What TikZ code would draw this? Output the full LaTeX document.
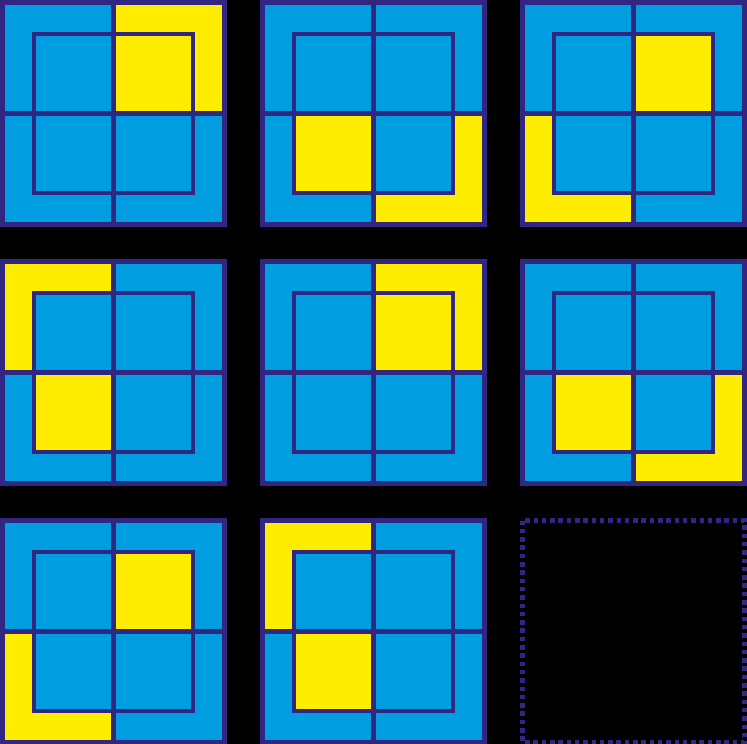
\documentclass[tikz,border=0pt]{standalone}
\definecolor{tileblue}{RGB}{0,158,224}
\definecolor{tileyellow}{RGB}{255,237,0}
\definecolor{tileline}{RGB}{49,39,131}
\begin{document}
\begin{tikzpicture}[x=1pt, y=-1pt,
    rim/.style={line width=4.5pt, tileline},
    lit/.style={fill=tileyellow}]
    % 背景
    \fill[black] (0,0) rectangle (747,744);
    \useasboundingbox (0,0) rectangle (747,744);
    
    % 八块方格: 中心 / 内格象限 / 外框象限
    \foreach \cx/\cy/\ix/\iy/\ox/\oy in {
        113.5/113.5/1/-1/1/-1, 373.5/113.5/-1/1/1/1, 633.5/113.5/1/-1/-1/1,
        113.5/372.5/-1/1/-1/-1, 373.5/372.5/1/-1/1/-1, 633.5/372.5/-1/1/1/1,
        113.5/631.5/1/-1/-1/1, 373.5/631.5/-1/1/-1/-1}{
        \begin{scope}[shift={(\cx,\cy)}]
            \fill[tileblue] (-111,-111) rectangle (111,111);
            \fill[lit] (0,0) rectangle (\ox*111,\oy*111);
            \fill[tileblue] (-79.5,-79.5) rectangle (79.5,79.5);
            \fill[lit] (0,0) rectangle (\ix*79.5,\iy*79.5);
            
            % 线框
            \draw[rim] (-111,-111) rectangle (111,111);
            \draw[rim] (-79.5,-79.5) rectangle (79.5,79.5);
            \draw[rim] (0,-111) -- (0,111);
            \draw[rim] (-111,0) -- (111,0);
        \end{scope}
    }
    
    % 空位
    \draw[rim, dash pattern=on 4.5pt off 3.8pt] (522.5,520.5) rectangle (744.5,742);
\end{tikzpicture}
\end{document}
